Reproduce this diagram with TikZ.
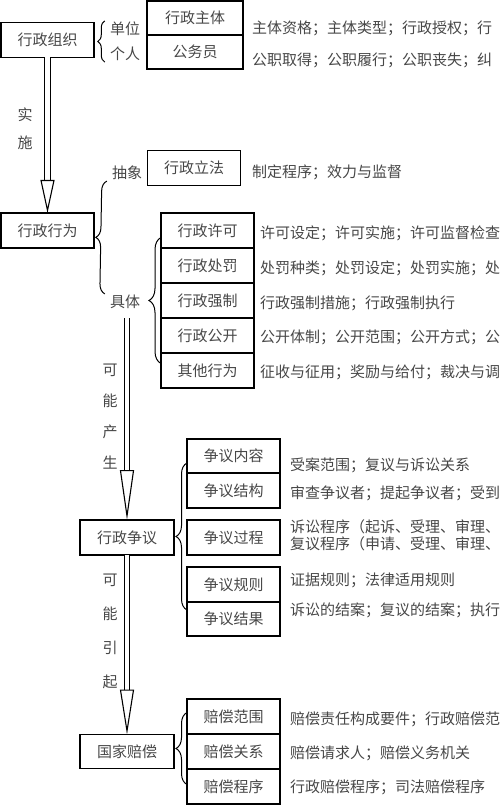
\documentclass[tikz,border=0pt]{standalone}
\usepackage{fontspec}
\newfontfamily\cjk{Noto Sans CJK SC}
\usetikzlibrary{arrows.meta,positioning,decorations.pathreplacing}

\begin{document}
\begin{tikzpicture}[
	x=1pt, y=-1pt,
	font=\cjk\fontsize{15}{17}\selectfont,
	box/.style={
		rectangle, draw=black, line width=1.2pt, outer sep=0pt,
		minimum width=93pt, minimum height=35pt, inner sep=0pt,
		text=black!72
	},
	note/.style={anchor=west, text=black!72, inner sep=0pt, align=left},
	tag/.style={text=black!72, inner sep=1pt},
	vtag/.style={text=black!72, inner sep=0pt, align=center},
	brace/.style={decorate, decoration={brace, amplitude=#1}, line width=1pt},
	brace/.default=10pt,
	hollow/.style={double, double distance=4.6pt, line width=1.1pt}
	]
	\useasboundingbox (0,0) rectangle (500,805);
	
	%% ─── 行政组织 ───────────────────────────────────────────
	\node[box] (zuzhi) at (47.5,40) {行政组织};
	\node[tag] (danwei) at (125,29) {单位};
	\node[tag] (geren) at (125,54) {个人};
	\draw[brace=7pt] ([xshift=-4pt]geren.south west) -- ([xshift=-4pt]danwei.north west);
	
	\node[box, minimum width=96pt, minimum height=34pt] (zhuti) at (195,18) {行政主体};
	\node[box, minimum width=96pt, minimum height=34pt, below=0pt of zhuti] (gongwuyuan) {公务员};
	\node[note] (t-zhuti) at (252,28) {主体资格；主体类型；行政授权；行};
	\node[note] (t-gongwuyuan) at (252,60) {公职取得；公职履行；公职丧失；纠};
	
	%% ─── 行政行为 ───────────────────────────────────────────
	\node[box] (xingwei) at (47.5,230.5) {行政行为};
	\node[vtag, font=\cjk\fontsize{15}{28}\selectfont] (shishi) at (25,129) {实\\施};
	\draw[hollow, -{Triangle[open, length=33pt, width=14pt]}] (zuzhi) -- (xingwei);
	
	\node[tag] (chouxiang) at (127,173) {抽象};
	\node[tag] (jvti) at (125,302) {具体};
	\draw[brace=10pt] ([xshift=-4pt]jvti.north west) -- ([xshift=-4pt]chouxiang.south west);
	
	\node[box] (lifa) at (194,168) {行政立法};
	\node[note] (t-lifa) at (252,172) {制定程序；效力与监督};
	
	\node[box] (xuke) at (207.5,230.5) {行政许可};
	\node[box, below=0pt of xuke] (chufa) {行政处罚};
	\node[box, below=0pt of chufa] (qiangzhi) {行政强制};
	\node[box, below=0pt of qiangzhi] (gongkai) {行政公开};
	\node[box, below=0pt of gongkai] (qita) {其他行为};
	\draw[brace=12pt] ([yshift=7pt]qita.west) -- ([yshift=-7pt]xuke.west);
	
	\node[note] (t-xuke) at (260,233) {许可设定；许可实施；许可监督检查};
	\node[note] (t-chufa) at (260,268) {处罚种类；处罚设定；处罚实施；处};
	\node[note] (t-qiangzhi) at (260,303) {行政强制措施；行政强制执行};
	\node[note] (t-gongkai) at (260,337) {公开体制；公开范围；公开方式；公};
	\node[note] (t-qita) at (260,372) {征收与征用；奖励与给付；裁决与调};
	
	%% ─── 行政争议 ───────────────────────────────────────────
	\node[box, minimum width=94pt] (zhengyi) at (127,537.5) {行政争议};
	\coordinate (chansheng) at (127,318);
	\node[vtag, font=\cjk\fontsize{15}{31}\selectfont] (kenengchansheng) at (110,416.5) {可\\能\\产\\生};
	\draw[hollow, -{Triangle[open, length=50pt, width=14pt]}] (chansheng) -- (zhengyi);
	
	\node[box, minimum height=34pt] (neirong) at (233.5,456) {争议内容};
	\node[box, below=0pt of neirong] (jiegou) {争议结构};
	\node[box] (guocheng) at (233.5,537.5) {争议过程};
	\node[box] (guize) at (233.5,584.5) {争议规则};
	\node[box, minimum height=34pt, below=0pt of guize] (jieguo) {争议结果};
	\draw[brace=11pt] ([yshift=9pt]jieguo.west) -- ([yshift=-7pt]neirong.west);
	
	\node[note] (t-neirong) at (290,465) {受案范围；复议与诉讼关系};
	\node[note] (t-jiegou) at (290,493) {审查争议者；提起争议者；受到};
	\node[note, font=\cjk\fontsize{15}{17}\selectfont] (t-guocheng) at (290,535) {诉讼程序（起诉、受理、审理、\\复议程序（申请、受理、审理、};
	\node[note] (t-guize) at (290,580) {证据规则；法律适用规则};
	\node[note] (t-jieguo) at (290,610) {诉讼的结案；复议的结案；执行};
	
	%% ─── 国家赔偿 ───────────────────────────────────────────
	\node[box, minimum width=94pt, minimum height=34pt] (peichang) at (127,751.5) {国家赔偿};
	\node[vtag, font=\cjk\fontsize{15}{34}\selectfont] (kenengyinqi) at (110,631.5) {可\\能\\引\\起};
	\draw[hollow, -{Triangle[open, length=45pt, width=14pt]}] (zhengyi) -- (peichang);
	
	\node[box] (fanwei) at (233.5,716.5) {赔偿范围};
	\node[box, below=0pt of fanwei] (guanxi) {赔偿关系};
	\node[box, below=0pt of guanxi] (chengxu) {赔偿程序};
	\draw[brace=11pt] ([yshift=2pt]chengxu.west) -- ([yshift=4pt]fanwei.west);
	
	\node[note] (t-fanwei) at (290,719) {赔偿责任构成要件；行政赔偿范};
	\node[note] (t-guanxi) at (290,753) {赔偿请求人；赔偿义务机关};
	\node[note] (t-chengxu) at (290,787) {行政赔偿程序；司法赔偿程序};
	
\end{tikzpicture}
\end{document}
